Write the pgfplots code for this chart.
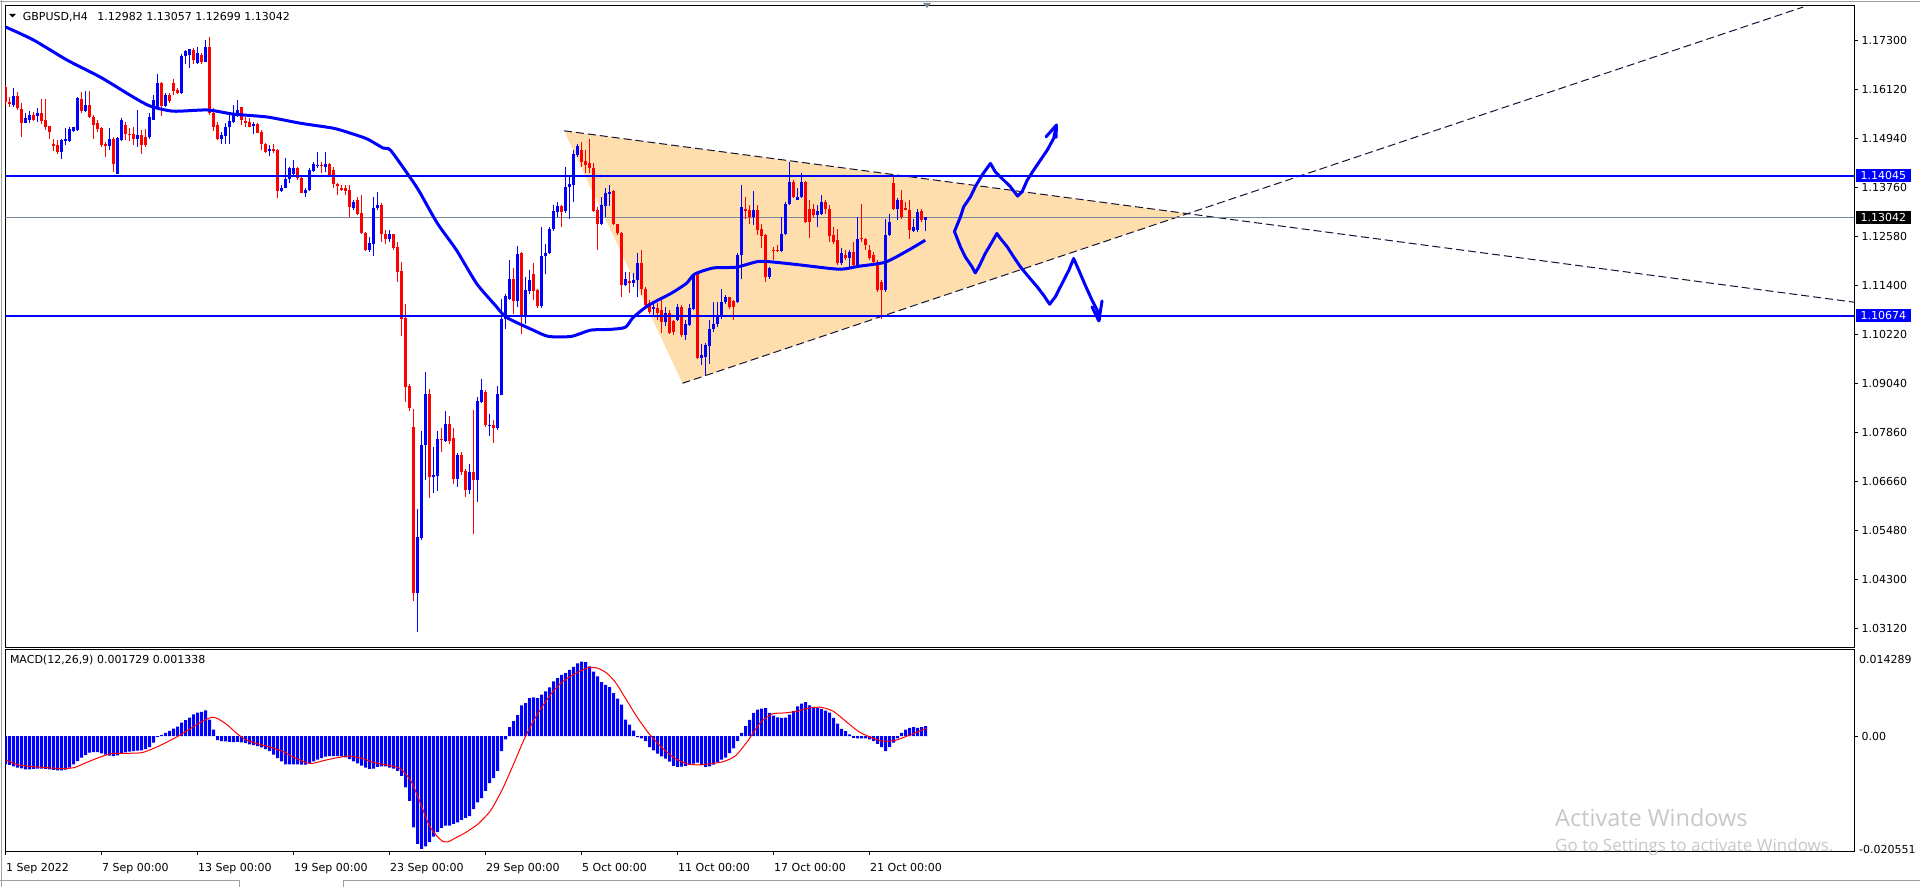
\documentclass[border=0pt]{standalone}
\usepackage{fontspec}
\setmainfont{DejaVu Sans}
\newfontfamily\wmfont{Open Sans}
\usepackage{pgfplots}
\usepackage{pgfplotstable}
\pgfplotsset{compat=1.18}
\definecolor{mtblue}{RGB}{0,0,255}
\definecolor{mtred}{RGB}{255,0,0}
\definecolor{trifill}{RGB}{255,222,173}
\definecolor{dashc}{RGB}{20,20,55}
\definecolor{bidline}{RGB}{119,136,153}
\definecolor{wmgray}{RGB}{200,200,200}
\definecolor{chrome}{RGB}{160,160,160}

% GBPUSD H4 candles: bar index, open, high, low, close
\pgfplotstableread{
i o h l c
0 1.1619 1.1623 1.1575 1.1583
1 1.1583 1.1595 1.1571 1.1577
2 1.1575 1.1615 1.1571 1.1597
3 1.1597 1.1607 1.1563 1.1567
4 1.1565 1.1579 1.1498 1.1532
5 1.1532 1.1555 1.1531 1.1543
6 1.1539 1.1560 1.1531 1.1551
7 1.1552 1.1559 1.1537 1.1540
8 1.1548 1.1567 1.1535 1.1556
9 1.1556 1.1589 1.1529 1.1537
10 1.1539 1.1589 1.1515 1.1523
11 1.1524 1.1524 1.1494 1.1511
12 1.1482 1.1494 1.1465 1.1476
13 1.1478 1.1490 1.1457 1.1462
14 1.1462 1.1494 1.1444 1.1490
15 1.1489 1.1519 1.1478 1.1492
16 1.1489 1.1523 1.1486 1.1516
17 1.1513 1.1523 1.1511 1.1521
18 1.1515 1.1595 1.1513 1.1591
19 1.1589 1.1607 1.1555 1.1560
20 1.1561 1.1609 1.1559 1.1575
21 1.1575 1.1609 1.1543 1.1547
22 1.1547 1.1551 1.1494 1.1527
23 1.1532 1.1539 1.1511 1.1516
24 1.1519 1.1523 1.1474 1.1478
25 1.1482 1.1486 1.1450 1.1476
26 1.1476 1.1520 1.1466 1.1494
27 1.1494 1.1497 1.1414 1.1432
28 1.1408 1.1497 1.1408 1.1496
29 1.1490 1.1543 1.1489 1.1539
30 1.1527 1.1535 1.1490 1.1505
31 1.1506 1.1519 1.1489 1.1502
32 1.1505 1.1521 1.1478 1.1492
33 1.1492 1.1563 1.1474 1.1502
34 1.1502 1.1515 1.1458 1.1478
35 1.1498 1.1516 1.1474 1.1478
36 1.1497 1.1555 1.1494 1.1545
37 1.1540 1.1599 1.1539 1.1587
38 1.1571 1.1649 1.1567 1.1627
39 1.1629 1.1631 1.1548 1.1572
40 1.1572 1.1603 1.1569 1.1600
41 1.1600 1.1603 1.1579 1.1584
42 1.1627 1.1637 1.1599 1.1609
43 1.1611 1.1617 1.1601 1.1604
44 1.1605 1.1699 1.1601 1.1692
45 1.1692 1.1708 1.1675 1.1704
46 1.1696 1.1709 1.1663 1.1709
47 1.1708 1.1712 1.1675 1.1683
48 1.1677 1.1716 1.1675 1.1700
49 1.1696 1.1700 1.1675 1.1678
50 1.1679 1.1732 1.1679 1.1716
51 1.1716 1.1740 1.1551 1.1555
52 1.1555 1.1567 1.1513 1.1523
53 1.1527 1.1535 1.1490 1.1492
54 1.1492 1.1511 1.1480 1.1502
55 1.1500 1.1531 1.1482 1.1521
56 1.1521 1.1551 1.1480 1.1537
57 1.1535 1.1575 1.1532 1.1551
58 1.1551 1.1587 1.1547 1.1564
59 1.1569 1.1571 1.1527 1.1539
60 1.1536 1.1547 1.1523 1.1532
61 1.1535 1.1543 1.1521 1.1523
62 1.1524 1.1535 1.1505 1.1528
63 1.1529 1.1531 1.1507 1.1508
64 1.1511 1.1515 1.1466 1.1481
65 1.1481 1.1484 1.1460 1.1462
66 1.1465 1.1478 1.1452 1.1470
67 1.1468 1.1480 1.1460 1.1464
68 1.1466 1.1468 1.1350 1.1368
69 1.1368 1.1382 1.1366 1.1376
70 1.1376 1.1446 1.1375 1.1396
71 1.1396 1.1426 1.1386 1.1422
72 1.1408 1.1442 1.1406 1.1424
73 1.1424 1.1426 1.1394 1.1400
74 1.1400 1.1406 1.1362 1.1363
75 1.1363 1.1376 1.1354 1.1371
76 1.1371 1.1422 1.1368 1.1418
77 1.1416 1.1438 1.1414 1.1432
78 1.1428 1.1461 1.1422 1.1430
79 1.1430 1.1438 1.1410 1.1428
80 1.1426 1.1461 1.1414 1.1432
81 1.1432 1.1434 1.1403 1.1406
82 1.1418 1.1426 1.1376 1.1384
83 1.1384 1.1386 1.1358 1.1380
84 1.1376 1.1382 1.1368 1.1371
85 1.1374 1.1382 1.1358 1.1368
86 1.1370 1.1382 1.1304 1.1328
87 1.1326 1.1346 1.1323 1.1342
88 1.1346 1.1354 1.1309 1.1313
89 1.1315 1.1358 1.1265 1.1267
90 1.1267 1.1269 1.1223 1.1225
91 1.1225 1.1257 1.1221 1.1243
92 1.1241 1.1354 1.1210 1.1326
93 1.1326 1.1366 1.1322 1.1334
94 1.1334 1.1338 1.1245 1.1265
95 1.1265 1.1273 1.1241 1.1251
96 1.1251 1.1273 1.1245 1.1265
97 1.1265 1.1265 1.1225 1.1231
98 1.1233 1.1245 1.1148 1.1173
99 1.1175 1.1197 1.1017 1.1060
100 1.1062 1.1096 1.0860 1.0895
101 1.0897 1.0903 1.0837 1.0844
102 1.0799 1.0843 1.0379 1.0398
103 1.0398 1.0601 1.0304 1.0533
104 1.0532 1.0790 1.0525 1.0754
105 1.0754 1.0931 1.0670 1.0879
106 1.0879 1.0891 1.0628 1.0678
107 1.0678 1.0750 1.0639 1.0684
108 1.0680 1.0789 1.0644 1.0770
109 1.0770 1.0795 1.0738 1.0768
110 1.0766 1.0837 1.0762 1.0805
111 1.0805 1.0824 1.0758 1.0766
112 1.0772 1.0797 1.0660 1.0674
113 1.0674 1.0736 1.0655 1.0730
114 1.0730 1.0738 1.0682 1.0690
115 1.0692 1.0698 1.0630 1.0647
116 1.0647 1.0710 1.0636 1.0690
117 1.0690 1.0839 1.0540 1.0671
118 1.0671 1.0871 1.0618 1.0861
119 1.0859 1.0915 1.0856 1.0887
120 1.0883 1.0887 1.0799 1.0803
121 1.0802 1.0831 1.0778 1.0804
122 1.0804 1.0816 1.0760 1.0796
123 1.0795 1.0897 1.0792 1.0877
124 1.0875 1.1108 1.0875 1.1058
125 1.1058 1.1120 1.1036 1.1114
126 1.1108 1.1202 1.1104 1.1156
127 1.1156 1.1181 1.1072 1.1103
128 1.1103 1.1235 1.1088 1.1215
129 1.1217 1.1221 1.1024 1.1068
130 1.1068 1.1160 1.1048 1.1128
131 1.1127 1.1177 1.1119 1.1154
132 1.1168 1.1193 1.1104 1.1127
133 1.1128 1.1132 1.1086 1.1090
134 1.1090 1.1281 1.1086 1.1210
135 1.1210 1.1241 1.1168 1.1218
136 1.1217 1.1280 1.1215 1.1275
137 1.1275 1.1333 1.1271 1.1320
138 1.1317 1.1342 1.1305 1.1331
139 1.1331 1.1333 1.1280 1.1317
140 1.1320 1.1426 1.1315 1.1378
141 1.1378 1.1406 1.1299 1.1384
142 1.1383 1.1466 1.1341 1.1456
143 1.1454 1.1482 1.1450 1.1476
144 1.1466 1.1486 1.1426 1.1438
145 1.1440 1.1466 1.1412 1.1430
146 1.1434 1.1494 1.1412 1.1424
147 1.1424 1.1434 1.1317 1.1320
148 1.1321 1.1329 1.1225 1.1289
149 1.1289 1.1354 1.1285 1.1333
150 1.1331 1.1374 1.1305 1.1363
151 1.1360 1.1382 1.1331 1.1366
152 1.1368 1.1370 1.1285 1.1288
153 1.1288 1.1289 1.1261 1.1267
154 1.1267 1.1269 1.1111 1.1140
155 1.1140 1.1173 1.1138 1.1156
156 1.1150 1.1173 1.1122 1.1146
157 1.1145 1.1169 1.1136 1.1154
158 1.1152 1.1217 1.1112 1.1193
159 1.1193 1.1225 1.1116 1.1132
160 1.1132 1.1136 1.1090 1.1092
161 1.1098 1.1104 1.1072 1.1076
162 1.1082 1.1098 1.1064 1.1088
163 1.1086 1.1098 1.1056 1.1074
164 1.1080 1.1111 1.1025 1.1052
165 1.1052 1.1088 1.1041 1.1074
166 1.1074 1.1080 1.1024 1.1025
167 1.1054 1.1057 1.1020 1.1028
168 1.1056 1.1096 1.1054 1.1088
169 1.1088 1.1092 1.1016 1.1020
170 1.1020 1.1056 1.1008 1.1046
171 1.1044 1.1096 1.1041 1.1086
172 1.1084 1.1169 1.1080 1.1167
173 1.1167 1.1169 1.0963 1.0966
174 1.0966 1.0999 1.0947 1.0971
175 1.0968 1.1001 1.0923 1.0996
176 1.0993 1.1056 1.0951 1.1036
177 1.1036 1.1100 1.1028 1.1048
178 1.1046 1.1100 1.1040 1.1064
179 1.1064 1.1132 1.1060 1.1100
180 1.1100 1.1116 1.1096 1.1112
181 1.1112 1.1112 1.1084 1.1087
182 1.1103 1.1104 1.1056 1.1088
183 1.1100 1.1217 1.1098 1.1213
184 1.1213 1.1382 1.1156 1.1329
185 1.1325 1.1354 1.1301 1.1320
186 1.1321 1.1333 1.1288 1.1305
187 1.1305 1.1368 1.1285 1.1321
188 1.1321 1.1333 1.1261 1.1273
189 1.1275 1.1289 1.1229 1.1259
190 1.1261 1.1265 1.1148 1.1160
191 1.1160 1.1185 1.1156 1.1181
192 1.1226 1.1233 1.1201 1.1223
193 1.1226 1.1237 1.1221 1.1223
194 1.1223 1.1305 1.1221 1.1265
195 1.1265 1.1342 1.1261 1.1337
196 1.1336 1.1438 1.1333 1.1390
197 1.1390 1.1394 1.1351 1.1354
198 1.1347 1.1374 1.1346 1.1354
199 1.1352 1.1410 1.1350 1.1390
200 1.1390 1.1392 1.1291 1.1293
201 1.1325 1.1346 1.1255 1.1293
202 1.1325 1.1337 1.1305 1.1309
203 1.1309 1.1333 1.1281 1.1320
204 1.1313 1.1358 1.1309 1.1341
205 1.1341 1.1346 1.1313 1.1325
206 1.1325 1.1333 1.1245 1.1259
207 1.1261 1.1281 1.1241 1.1245
208 1.1249 1.1277 1.1189 1.1193
209 1.1193 1.1229 1.1189 1.1217
210 1.1213 1.1226 1.1201 1.1205
211 1.1205 1.1225 1.1181 1.1221
212 1.1221 1.1245 1.1181 1.1189
213 1.1189 1.1305 1.1181 1.1253
214 1.1255 1.1336 1.1245 1.1251
215 1.1253 1.1255 1.1225 1.1237
216 1.1225 1.1237 1.1201 1.1205
217 1.1213 1.1221 1.1193 1.1197
218 1.1197 1.1201 1.1124 1.1128
219 1.1148 1.1152 1.1060 1.1128
220 1.1128 1.1301 1.1124 1.1261
221 1.1261 1.1313 1.1259 1.1293
222 1.1386 1.1406 1.1321 1.1325
223 1.1325 1.1350 1.1297 1.1346
224 1.1346 1.1370 1.1301 1.1305
225 1.1325 1.1341 1.1321 1.1323
226 1.1323 1.1346 1.1253 1.1273
227 1.1272 1.1301 1.1269 1.1280
228 1.1273 1.1325 1.1269 1.1317
229 1.1319 1.1325 1.1293 1.1297
230 1.1298 1.1306 1.1270 1.1304
}\candles

% MACD(12,26,9) histogram
\pgfplotstableread{
i v
0 -0.00490
1 -0.00502
2 -0.00525
3 -0.00548
4 -0.00560
5 -0.00577
6 -0.00577
7 -0.00571
8 -0.00565
9 -0.00565
10 -0.00571
11 -0.00577
12 -0.00589
13 -0.00594
14 -0.00594
15 -0.00583
16 -0.00548
17 -0.00490
18 -0.00433
19 -0.00375
20 -0.00329
21 -0.00289
22 -0.00277
23 -0.00277
24 -0.00300
25 -0.00323
26 -0.00340
27 -0.00346
28 -0.00335
29 -0.00294
30 -0.00283
31 -0.00271
32 -0.00260
33 -0.00254
34 -0.00248
35 -0.00225
36 -0.00190
37 -0.00115
38 -0.00012
39 0.00023
40 0.00058
41 0.00092
42 0.00133
43 0.00167
44 0.00237
45 0.00277
46 0.00323
47 0.00381
48 0.00410
49 0.00421
50 0.00450
51 0.00289
52 0.00115
53 -0.00069
54 -0.00087
55 -0.00092
56 -0.00098
57 -0.00104
58 -0.00098
59 -0.00110
60 -0.00121
61 -0.00144
62 -0.00156
63 -0.00173
64 -0.00196
65 -0.00225
66 -0.00260
67 -0.00323
68 -0.00381
69 -0.00439
70 -0.00490
71 -0.00490
72 -0.00490
73 -0.00490
74 -0.00496
75 -0.00496
76 -0.00467
77 -0.00439
78 -0.00410
79 -0.00381
80 -0.00358
81 -0.00346
82 -0.00346
83 -0.00346
84 -0.00352
85 -0.00369
86 -0.00398
87 -0.00439
88 -0.00473
89 -0.00514
90 -0.00548
91 -0.00571
92 -0.00565
93 -0.00537
94 -0.00525
95 -0.00525
96 -0.00548
97 -0.00565
98 -0.00606
99 -0.00692
100 -0.00894
101 -0.01125
102 -0.01587
103 -0.01875
104 -0.01962
105 -0.01921
106 -0.01846
107 -0.01748
108 -0.01673
109 -0.01598
110 -0.01558
111 -0.01558
112 -0.01529
113 -0.01500
114 -0.01460
115 -0.01425
116 -0.01391
117 -0.01269
118 -0.01154
119 -0.01079
120 -0.00952
121 -0.00819
122 -0.00733
123 -0.00606
124 -0.00260
125 -0.00058
126 0.00156
127 0.00260
128 0.00364
129 0.00537
130 0.00577
131 0.00664
132 0.00675
133 0.00664
134 0.00721
135 0.00779
136 0.00848
137 0.00952
138 0.01010
139 0.01067
140 0.01096
141 0.01154
142 0.01206
143 0.01269
144 0.01298
145 0.01287
146 0.01217
147 0.01125
148 0.01039
149 0.00941
150 0.00894
151 0.00854
152 0.00750
153 0.00652
154 0.00548
155 0.00289
156 0.00202
157 0.00098
158 -0.00017
159 -0.00040
160 -0.00087
161 -0.00190
162 -0.00248
163 -0.00306
164 -0.00352
165 -0.00392
166 -0.00444
167 -0.00519
168 -0.00537
169 -0.00531
170 -0.00519
171 -0.00496
172 -0.00479
173 -0.00462
174 -0.00502
175 -0.00537
176 -0.00525
177 -0.00496
178 -0.00450
179 -0.00410
180 -0.00375
181 -0.00294
182 -0.00213
183 -0.00087
184 0.00058
185 0.00173
186 0.00283
187 0.00404
188 0.00462
189 0.00479
190 0.00490
191 0.00404
192 0.00358
193 0.00329
194 0.00317
195 0.00323
196 0.00375
197 0.00439
198 0.00519
199 0.00565
200 0.00594
201 0.00537
202 0.00508
203 0.00490
204 0.00473
205 0.00444
206 0.00410
207 0.00317
208 0.00219
209 0.00127
210 0.00087
211 0.00029
212 -0.00029
213 -0.00040
214 -0.00040
215 -0.00040
216 -0.00058
217 -0.00087
218 -0.00133
219 -0.00190
220 -0.00260
221 -0.00190
222 -0.00115
223 -0.00040
224 0.00058
225 0.00115
226 0.00144
227 0.00156
228 0.00144
229 0.00156
230 0.00173
}\macdhist

\begin{document}
\begin{tikzpicture}
\path[use as bounding box] (0pt,0pt) rectangle (1920pt,887pt);
\fill[white] (0pt,0pt) rectangle (1920pt,887pt);

% ---------------- main price window ----------------
\begin{axis}[
  at={(5.3pt,239.5pt)}, anchor=south west, scale only axis,
  width=1848.7pt, height=641.5pt,
  xmin=-0.1, xmax=462.1, ymin=1.02669, ymax=1.18137,
  scaled ticks=false,
  xtick=\empty,
  ytick={1.0312,1.0430,1.0548,1.0666,1.0786,1.0904,1.1022,1.1140,1.1258,1.1376,1.1494,1.1612,1.1730},
  yticklabels={1.03120,1.04300,1.05480,1.06660,1.07860,1.09040,1.10220,1.11400,1.12580,1.13760,1.14940,1.16120,1.17300},
  ytick pos=right, yticklabel pos=right,
  tick align=outside, major tick length=4pt,
  tick style={black, line width=1pt},
  axis line style={black, line width=1pt},
  yticklabel style={anchor=west, font=\fontsize{11}{13}\selectfont},
  clip mode=individual,
]
% triangle object
\addplot[fill=trifill, draw=none, forget plot] coordinates {(139.6,1.15128) (169.2,1.09040) (295.5,1.13130)} -- cycle;
% trend lines
\addplot[dashc, line width=1pt, dash pattern=on 8pt off 4pt] coordinates {(139.6,1.15128) (462.1,1.10995)};
\addplot[dashc, line width=1pt, dash pattern=on 8pt off 4pt] coordinates {(169.2,1.09040) (449.4,1.18113)};
% bid line
\addplot[bidline, line width=1pt] coordinates {(-0.1,1.13042) (462.1,1.13042)};
% candles: wicks and bodies
\addplot[draw=none, mark=none, restrict expr to domain={\thisrow{c}-\thisrow{o}}{0:1},
  error bars/.cd, y dir=plus, y explicit, error mark=none, error bar style={draw=mtblue, line width=1pt}]
  table[x=i, y=l, y error plus expr={\thisrow{h}-\thisrow{l}}] {\candles};
\addplot[draw=none, mark=none, restrict expr to domain={\thisrow{o}-\thisrow{c}}{0.000001:1},
  error bars/.cd, y dir=plus, y explicit, error mark=none, error bar style={draw=mtred, line width=1pt}]
  table[x=i, y=l, y error plus expr={\thisrow{h}-\thisrow{l}}] {\candles};
\addplot[draw=none, mark=none, restrict expr to domain={\thisrow{c}-\thisrow{o}}{0:1},
  error bars/.cd, y dir=plus, y explicit, error mark=none, error bar style={draw=mtblue, line width=3pt}]
  table[x=i, y=o, y error plus expr={max(\thisrow{c}-\thisrow{o},0.00025)}] {\candles};
\addplot[draw=none, mark=none, restrict expr to domain={\thisrow{o}-\thisrow{c}}{0.000001:1},
  error bars/.cd, y dir=plus, y explicit, error mark=none, error bar style={draw=mtred, line width=3pt}]
  table[x=i, y=c, y error plus expr={max(\thisrow{o}-\thisrow{c},0.00025)}] {\candles};
% moving average
\addplot[mtblue, line width=3pt, smooth, tension=0.4] coordinates {
(0,1.1763) (6.9,1.1732) (15.4,1.1683) (23.7,1.1642) (31.9,1.1594) (36.2,1.1572) (41.9,1.1560)
(50.4,1.1563) (56.9,1.1553) (65.4,1.1546) (73.7,1.1531) (81.9,1.1519) (86.2,1.1507) (90.4,1.1493)
(94.4,1.1471) (96.2,1.1466) (101.2,1.1399) (103.5,1.1365) (107.9,1.1290) (112.7,1.1225) (117.7,1.1145)
(122.4,1.1092) (125.2,1.1063) (131.9,1.1032) (135.7,1.1017) (141.4,1.1017) (146.2,1.1032) (151.2,1.1034)
(154.9,1.1039) (156.9,1.1063) (160.7,1.1092) (166.4,1.1121) (170.2,1.1145) (172.2,1.1167) (176.9,1.1182)
(182.7,1.1184) (188.4,1.1198) (194.2,1.1194) (198.9,1.1189) (208.4,1.1179) (213.2,1.1186) (219.9,1.1196)
(225.7,1.1225) (229.9,1.1249)};
% horizontal levels
\addplot[mtblue, line width=2pt] coordinates {(-0.1,1.14045) (462.1,1.14045)};
\addplot[mtblue, line width=2pt] coordinates {(-0.1,1.10674) (462.1,1.10674)};
% hand drawn scenarios
\addplot[mtblue, line width=3pt, line cap=round, line join=round] coordinates {
(237.2,1.1270) (238.7,1.13053) (239.5,1.13294) (241.2,1.13535) (242.4,1.13777) (244.1,1.14059) (246.2,1.14341)
(247.4,1.14139) (249.1,1.13979) (251.2,1.13777) (253.0,1.13552) (254.1,1.13656) (255.4,1.13938) (257.0,1.14180)
(258.7,1.14421) (260.4,1.14662) (262.0,1.14944) (262.7,1.15266)};
\addplot[mtblue, line width=3pt, line cap=round, line join=round] coordinates {
(260.1,1.14983) (262.7,1.15266) (262.6,1.14968)};
\addplot[mtblue, line width=3pt, line cap=round, line join=round] coordinates {
(237.2,1.1270) (238.7,1.12329) (239.9,1.12088) (241.6,1.11847) (242.4,1.11702) (243.3,1.11847) (244.9,1.12170)
(246.6,1.12449) (247.8,1.12652) (248.7,1.12532) (250.4,1.12329) (252.0,1.12088) (253.7,1.11847) (255.4,1.11646)
(257.9,1.11364) (259.5,1.11163) (261.0,1.10946) (262.4,1.11122) (264.1,1.11445) (265.8,1.11766) (267.0,1.12049)
(268.3,1.11766) (269.9,1.11404) (271.6,1.11042) (272.9,1.10801) (273.5,1.10577)};
\addplot[mtblue, line width=3pt, line cap=round, line join=round] coordinates {
(271.6,1.10881) (273.3,1.10543) (274.1,1.11026)};
% price tags
\node[fill=mtblue, text=white, anchor=west, inner xsep=5pt, inner ysep=0pt, minimum height=13.5pt,
  font=\fontsize{11}{13}\selectfont, xshift=1.5pt] at (axis cs:462.1,1.14045) {1.14045};
\node[fill=black, text=white, anchor=west, inner xsep=5pt, inner ysep=0pt, minimum height=13.5pt,
  font=\fontsize{11}{13}\selectfont, xshift=1.5pt] at (axis cs:462.1,1.13042) {1.13042};
\node[fill=mtblue, text=white, anchor=west, inner xsep=5pt, inner ysep=0pt, minimum height=13.5pt,
  font=\fontsize{11}{13}\selectfont, xshift=1.5pt] at (axis cs:462.1,1.10674) {1.10674};
\end{axis}

% ---------------- MACD window ----------------
\begin{axis}[
  at={(5.3pt,36pt)}, anchor=south west, scale only axis,
  width=1848.7pt, height=201.5pt,
  xmin=-0.1, xmax=462.1, ymin=-0.02, ymax=0.015088,
  scaled ticks=false,
  xtick={0,24,48,72,96,120,144,168,192,216},
  xticklabels={1 Sep 2022,7 Sep 00:00,13 Sep 00:00,19 Sep 00:00,23 Sep 00:00,29 Sep 00:00,5 Oct 00:00,11 Oct 00:00,17 Oct 00:00,21 Oct 00:00},
  xtick pos=bottom, xticklabel pos=bottom,
  ytick={0}, yticklabels={0.00},
  ytick pos=right, yticklabel pos=right,
  tick align=outside, major tick length=4pt,
  tick style={black, line width=1pt},
  axis line style={black, line width=1pt},
  xticklabel style={anchor=north west, xshift=-3pt, yshift=-5pt, font=\fontsize{11}{13}\selectfont},
  yticklabel style={anchor=west, font=\fontsize{11}{13}\selectfont},
  clip mode=individual,
]
\addplot[ybar, bar width=0.75, fill=mtblue, draw=none] table[x=i, y=v] {\macdhist};
\addplot[mtred, line width=1pt, smooth, tension=0.4] coordinates {
(0,-0.00415) (3.27,-0.00502) (7.87,-0.00537) (14.0,-0.00565) (17.1,-0.00548) (20.1,-0.00462) (23.2,-0.00375)
(26.2,-0.00306) (29.3,-0.00300) (33.9,-0.00289) (37.0,-0.00213) (40.0,-0.00115) (43.1,0) (46.2,0.00133)
(49.2,0.00260) (51.5,0.00329) (53.0,0.00306) (55.3,0.00202) (57.6,0.00058) (59.9,-0.00058) (63.0,-0.00133)
(66.1,-0.00190) (69.1,-0.00260) (72.2,-0.00375) (75.2,-0.00462) (76.8,-0.00473) (79.8,-0.00421) (82.9,-0.00375)
(86.0,-0.00346) (89.0,-0.00387) (92.1,-0.00462) (95.2,-0.00502) (98.2,-0.00548) (99.7,-0.00635) (101.3,-0.00779)
(102.8,-0.01010) (104.4,-0.01298) (105.9,-0.01558) (107.7,-0.01731) (109.2,-0.01829) (110.5,-0.01841)
(112.8,-0.01760) (115.1,-0.01673) (118.1,-0.01529) (121.2,-0.01298) (124.2,-0.00923) (127.3,-0.00433)
(129.6,-0.00058) (131.9,0.00260) (134.2,0.00519) (136.5,0.00750) (138.8,0.00923) (141.1,0.01039) (143.4,0.01125)
(145.7,0.01194) (148.0,0.01183) (150.3,0.01096) (152.6,0.00923) (154.9,0.00664) (158.0,0.00317) (161.0,0.00029)
(164.1,-0.00202) (167.1,-0.00375) (170.2,-0.00479) (173.3,-0.00502) (176.3,-0.00479) (179.4,-0.00444)
(182.4,-0.00346) (185.5,-0.00087) (188.6,0.00231) (191.6,0.00387) (194.7,0.00404) (197.8,0.00433) (200.8,0.00490)
(203.9,0.00502) (206.9,0.00433) (210.0,0.00260) (213.1,0.00087) (216.1,-0.00017) (219.2,-0.00087)
(222.3,-0.00075) (225.3,0) (228.4,0.00087) (230.2,0.00133)};
\node[anchor=west, inner sep=0pt, font=\fontsize{11}{13}\selectfont, xshift=5pt] at (rel axis cs:1,0.952) {0.014289};
\node[anchor=west, inner sep=0pt, font=\fontsize{11}{13}\selectfont, xshift=5pt] at (rel axis cs:1,0.005) {-0.020551};
\end{axis}

% ---------------- window text and chrome ----------------
\fill[black] (9pt,873pt) -- (16pt,873pt) -- (12.5pt,869.5pt) -- cycle;
\node[anchor=west, inner sep=0pt, font=\fontsize{11}{13}\selectfont] at (22.7pt,870.3pt)
  {GBPUSD,H4\hspace{6pt} 1.12982 1.13057 1.12699 1.13042};
\node[anchor=west, inner sep=0pt, font=\fontsize{11}{13}\selectfont] at (9.8pt,227pt)
  {MACD(12,26,9) 0.001729 0.001338};
\fill[bidline] (923pt,884pt) -- (931pt,884pt) -- (927pt,879pt) -- cycle;
\draw[chrome, line width=1pt] (0pt,885.5pt) -- (1920pt,885.5pt);
\draw[chrome, line width=1pt] (1.5pt,0pt) -- (1.5pt,887pt);
\draw[chrome, line width=1pt] (0pt,7pt) -- (239pt,7pt) -- (239pt,0pt);
\draw[chrome, line width=1pt] (343pt,0pt) -- (343pt,7pt) -- (1920pt,7pt);
\node[anchor=west, inner sep=0pt, text=wmgray, font=\wmfont\fontsize{23.5}{28}\selectfont] at (1555pt,69pt) {Activate Windows};
\node[anchor=west, inner sep=0pt, text=wmgray, font=\wmfont\fontsize{17}{20}\selectfont] at (1555pt,40pt) {Go to Settings to activate Windows.};
\end{tikzpicture}
\end{document}
